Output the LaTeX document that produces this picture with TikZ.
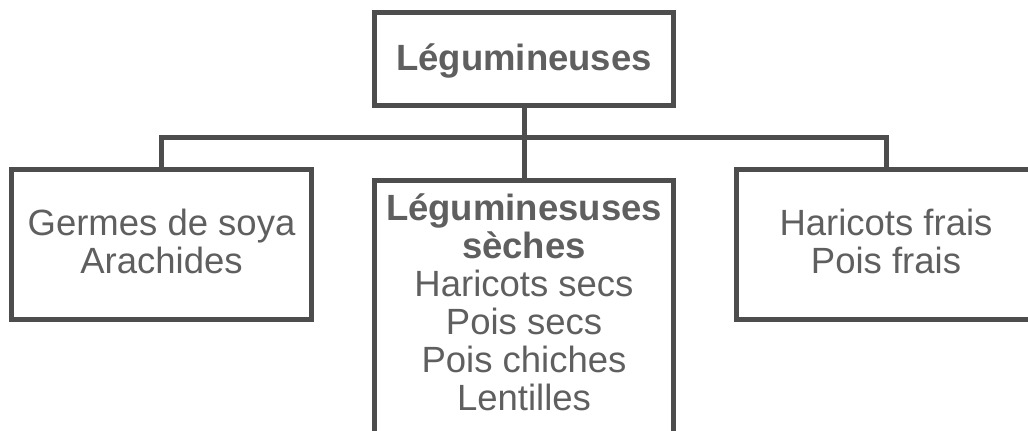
\documentclass[tikz,border=0pt]{standalone}
\usepackage{fontspec}
\setmainfont{Liberation Sans}
\definecolor{linegray}{HTML}{4D4D4D}
\definecolor{textgray}{HTML}{5F5F5F}
\begin{document}
\begin{tikzpicture}[x=1pt,y=-1pt,
  box/.style={draw=linegray, line width=5pt, rectangle, inner sep=0pt, outer sep=0pt},
  label/.style={text=textgray, align=center, inner sep=0pt, font=\fontsize{36.5}{37.5}\selectfont},
  conn/.style={draw=linegray, line width=5pt}]
\useasboundingbox (0,0) rectangle (1028,431);
\clip (0,0) rectangle (1028,431);
% boxes
\node[box, minimum width=299pt, minimum height=93pt] (top) at (524,59) {};
\node[box, minimum width=300pt, minimum height=150pt] (left) at (161.5,244.5) {};
\node[box, minimum width=299pt, minimum height=150pt] (right) at (886,244.5) {};
\node[box, minimum width=299pt, minimum height=330pt, anchor=north] (mid) at (524,180.5) {};
% texts
\node[label, anchor=base] (toptext) at (524,70) {\textbf{Légumineuses}};
\node[label] (lefttext) at (161.5,241.5) {Germes de soya\\Arachides};
\node[label] (righttext) at (886,241.5) {Haricots frais\\Pois frais};
\node[label, font=\fontsize{36.5}{38}\selectfont] (midtext) at (524,302) {\textbf{Léguminesuses}\\\textbf{sèches}\\Haricots secs\\Pois secs\\Pois chiches\\Lentilles};
% connectors
\coordinate (bar) at (524,137.5);
\draw[conn] (top.south) -- (mid.north);
\draw[conn] (left.north) |- (bar) -| (right.north);
\end{tikzpicture}
\end{document}
